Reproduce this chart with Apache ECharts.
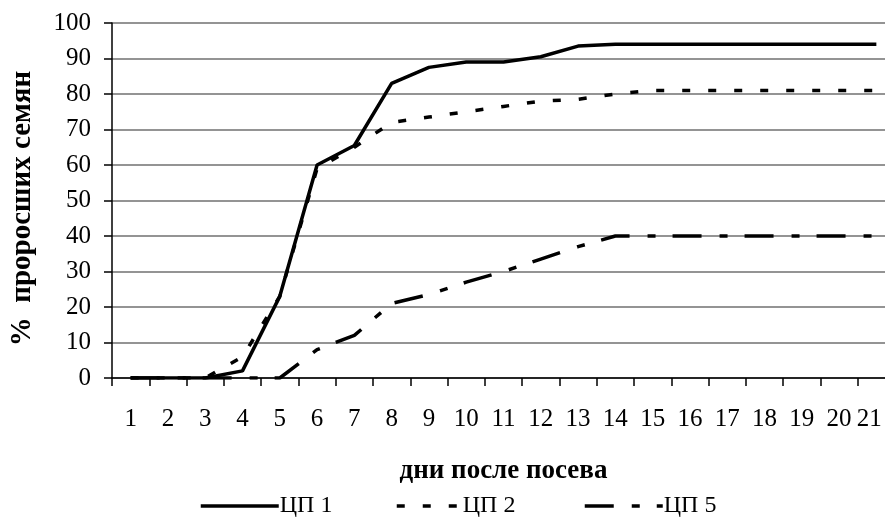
<!DOCTYPE html>
<html>
<head>
<meta charset="utf-8">
<script src="https://cdn.jsdelivr.net/npm/echarts@6/dist/echarts.min.js"></script>
<style>
html,body{margin:0;padding:0;background:#fff;overflow:hidden;width:885px;height:522px;}
#chart{width:900px;height:522px;}
</style>
</head>
<body>
<div id="chart"></div>
<script>
var days = ['1','2','3','4','5','6','7','8','9','10','11','12','13','14','15','16','17','18','19','20','21'];
var cp1 = [0,0,0,2,23,60,65.5,83,87.5,89,89,90.5,93.5,94,94,94,94,94,94,94,94];
var cp2 = [0,0,0,6,23,59,65,72,73.5,75,76.5,78,78.5,80,81,81,81,81,81,81,81];
var cp5 = [0,0,0,0,0,8,12,21,23.5,27,30,33.5,37,40,40,40,40,40,40,40,40];
var seriesNames = ['ЦП 1','ЦП 2','ЦП 5'];
var yTitle = '%  проросших семян';
var xTitle = 'дни после посева';

var FONT = 'Liberation Serif';
function legendAt(name, left, dashOffset) {
  return {
    data:[name], left:left, top:494,
    itemWidth:78, itemHeight:12, itemGap:0, padding:0,
    itemStyle:{opacity:0},
    lineStyle:{width:3.5, dashOffset:dashOffset},
    textStyle:{fontFamily:FONT, fontSize:24, color:'#000', padding:[0,0,0,-4]}
  };
}
var chart = echarts.init(document.getElementById('chart'), null, {renderer:'canvas'});
chart.setOption({
  animation:false,
  backgroundColor:'#fff',
  grid:{left:111, top:23, right:5, bottom:144, containLabel:false},
  legend:[legendAt(seriesNames[0], 199, 0), legendAt(seriesNames[1], 382, 13), legendAt(seriesNames[2], 583, 0)],
  xAxis:{
    type:'category', data:days, boundaryGap:true,
    axisLine:{lineStyle:{color:'#000', width:1.5}},
    axisTick:{show:true, length:8, lineStyle:{color:'#000', width:1.5}},
    axisLabel:{fontFamily:FONT, fontSize:25, color:'#000', margin:29, interval:0,
      formatter:function(v, i){ return i === days.length - 1 ? '{e|' + v + '}' : v; },
      rich:{e:{fontFamily:FONT, fontSize:25, color:'#000', padding:[0,14,0,0]}}},
    name:xTitle, nameLocation:'middle', nameGap:80,
    nameTextStyle:{fontFamily:FONT, fontSize:27, fontWeight:'bold', color:'#000'},
    splitLine:{show:false}
  },
  yAxis:{
    type:'value', min:0, max:100, interval:10,
    axisLine:{show:true, lineStyle:{color:'#000', width:1.5}},
    axisTick:{show:true, length:8, lineStyle:{color:'#000', width:1.5}},
    axisLabel:{fontFamily:FONT, fontSize:25, color:'#000', margin:21},
    splitLine:{show:true, lineStyle:{color:'#707070', width:1.5}},
    name:yTitle, nameLocation:'middle', nameGap:75, nameRotate:90,
    nameTextStyle:{fontFamily:FONT, fontSize:29, fontWeight:'bold', color:'#000', padding:[0,16,0,0]}
  },
  series:[
    {name:seriesNames[0], type:'line', data:cp1, symbol:'none', lineStyle:{color:'#000', width:3.5, type:'solid'}, itemStyle:{color:'#000'}},
    {name:seriesNames[1], type:'line', data:cp2, symbol:'none', lineStyle:{color:'#000', width:3.5, type:[8,18], cap:'butt'}, itemStyle:{color:'#000'}},
    {name:seriesNames[2], type:'line', data:cp5, symbol:'none', lineStyle:{color:'#000', width:3.5, type:[29,18,8,17], cap:'butt'}, itemStyle:{color:'#000'}}
  ]
});
</script>
</body>
</html>
